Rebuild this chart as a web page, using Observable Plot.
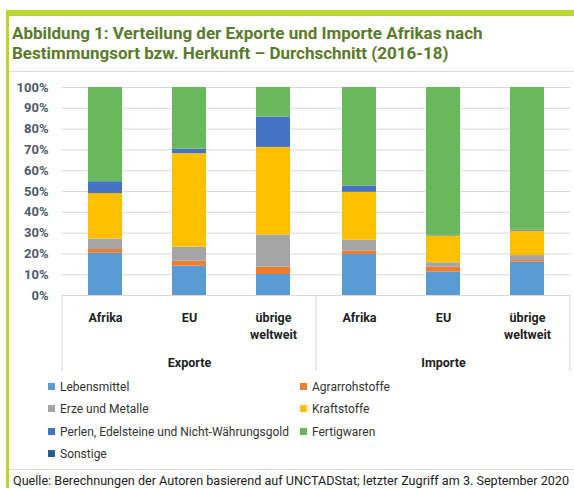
<!DOCTYPE html>
<html>
<head>
<meta charset="utf-8">
<script src="https://cdn.jsdelivr.net/npm/d3@7"></script>
<script src="https://cdn.jsdelivr.net/npm/@observablehq/plot@0.6"></script>
<style>
  html, body { margin: 0; padding: 0; }
  body { width: 574px; height: 488px; position: relative; overflow: hidden; background: #fff;
         font-family: "Roboto", sans-serif; }
  #topbar { position: absolute; left: 6px; top: 10px; width: 568px; height: 6px; background: #BDD531; }
  #leftbar { position: absolute; left: 6px; top: 10px; width: 3px; height: 478px; background: #BDD531; }
  #title { position: absolute; left: 12px; top: 23px; font-weight: bold; font-size: 17px; line-height: 20px; color: #5B7B2B; }
  .sep { position: absolute; left: 9px; width: 565px; height: 1px; background: #D6DEE4; }
  #chart { position: absolute; left: 0; top: 72px; }
  .leg { position: absolute; font-size: 12px; color: #333; line-height: 14px; white-space: nowrap; }
  .leg span.sw { display: inline-block; width: 7px; height: 7px; margin-right: 5px; vertical-align: 1px; }
  #caption { position: absolute; left: 13px; top: 474px; font-size: 13.5px; line-height: 13px; color: #222;
             white-space: nowrap; transform-origin: 0 0; }
</style>
</head>
<body>
<div id="topbar"></div>
<div id="leftbar"></div>
<div id="title">Abbildung 1: Verteilung der Exporte und Importe Afrikas nach<br>Bestimmungsort bzw. Herkunft – Durchschnitt (2016-18)</div>
<div class="sep" style="top:71px"></div>
<div id="chart"></div>
<div id="legend"></div>
<div class="sep" style="top:469px"></div>
<div id="caption">Quelle: Berechnungen der Autoren basierend auf UNCTADStat; letzter Zugriff am 3. September 2020</div>
<script>
// Groups and categories (bars in order: Exporte Afrika, EU, übrige; Importe Afrika, EU, übrige)
const groups = ["Exporte", "Importe"];
const categories = ["Afrika", "EU", "übrige\nweltweit"];
const series = ["Lebensmittel", "Agrarrohstoffe", "Erze und Metalle", "Kraftstoffe",
                "Perlen, Edelsteine und Nicht-Währungsgold", "Fertigwaren", "Sonstige"];
const colors = ["#5B9BD5", "#ED7D31", "#A5A5A5", "#FFC000", "#4472C4", "#69B85B", "#255E91"];

// Shares in percent
const lebensmittel   = [20.3, 14.1, 10.1, 19.7, 11.2, 16.0];
const agrarrohstoffe = [ 1.8,  2.4,  3.5,  1.6,  2.4,  0.8];
const erzeMetalle    = [ 5.1,  6.7, 15.5,  5.3,  2.1,  2.4];
const kraftstoffe    = [21.8, 45.0, 42.1, 23.0, 12.9, 11.7];
const perlenGold     = [ 5.7,  2.2, 14.6,  3.0,  0.3,  0.5];
const fertigwaren    = [45.3, 29.6, 14.2, 47.4, 71.1, 68.6];
const sonstige       = [ 0.0,  0.0,  0.0,  0.0,  0.0,  0.0];

const yTicks = [0, 10, 20, 30, 40, 50, 60, 70, 80, 90, 100];

const seriesValues = [lebensmittel, agrarrohstoffe, erzeMetalle, kraftstoffe, perlenGold, fertigwaren, sonstige];
const data = [];
series.forEach((s, si) => {
  seriesValues[si].forEach((v, i) => {
    data.push({series: s, group: groups[Math.floor(i / 3)], cat: categories[i % 3], value: v});
  });
});

const font = '"Roboto", sans-serif';

const plot = Plot.plot({
  width: 574,
  height: 303,
  marginTop: 15,
  marginLeft: 62,
  marginRight: 4,
  marginBottom: 80,
  style: {fontFamily: font, background: "transparent", overflow: "visible"},
  fx: {domain: groups, padding: 0},
  x: {domain: categories, paddingInner: 0.6, paddingOuter: 0.3},
  y: {domain: [0, 100]},
  color: {domain: series, range: colors},
  marks: [
    Plot.gridY(yTicks, {stroke: "#D9D9D9", strokeOpacity: 1}),
    Plot.barY(data, {fx: "group", x: "cat", y: "value", fill: "series"}),
    Plot.ruleY([0], {stroke: "#D9D9D9"}),
    Plot.axisY({ticks: yTicks, tickSize: 0, tickPadding: 14, tickFormat: d => d + "%",
                fontWeight: "bold", fontSize: 13, fill: "#4E5A6C", label: null}),
    Plot.axisX({tickSize: 0, tickPadding: 15, lineHeight: 1.35, fontWeight: "bold", fontSize: 12.5, fill: "#222", label: null}),
    Plot.axisFx({anchor: "bottom", tickSize: 0, tickPadding: 63, fontWeight: "bold", fontSize: 12.5, fill: "#222", label: null})
  ]
});

// Group separator lines below the axis, positioned from the facet and y scales
const fxs = plot.scale("fx");
const ys = plot.scale("y");
const y0 = ys.apply(0);
const bounds = groups.map(g => fxs.apply(g)).concat([fxs.apply(groups[groups.length - 1]) + fxs.bandwidth]);
d3.select(plot).append("g")
  .selectAll("line").data(bounds).join("line")
  .attr("x1", d => d).attr("x2", d => d)
  .attr("y1", y0).attr("y2", y0 + 76)
  .attr("stroke", "#D9D9D9");

document.getElementById("chart").appendChild(plot);

// Legend: two columns, row-wise order
const legend = document.getElementById("legend");
const legCols = [48, 300];
const legRows = [380, 402, 425, 447];
series.forEach((s, i) => {
  const d = document.createElement("div");
  d.className = "leg";
  d.style.left = legCols[i % 2] + "px";
  d.style.top = legRows[Math.floor(i / 2)] + "px";
  d.innerHTML = `<span class="sw" style="background:${colors[i]}"></span>${s}`;
  legend.appendChild(d);
});

// Fit the caption into the frame width (the original uses a condensed face)
const cap = document.getElementById("caption");
const cw = cap.getBoundingClientRect().width;
const target = 556;
if (cw > target) cap.style.transform = `scaleX(${target / cw})`;
</script>
</body>
</html>
